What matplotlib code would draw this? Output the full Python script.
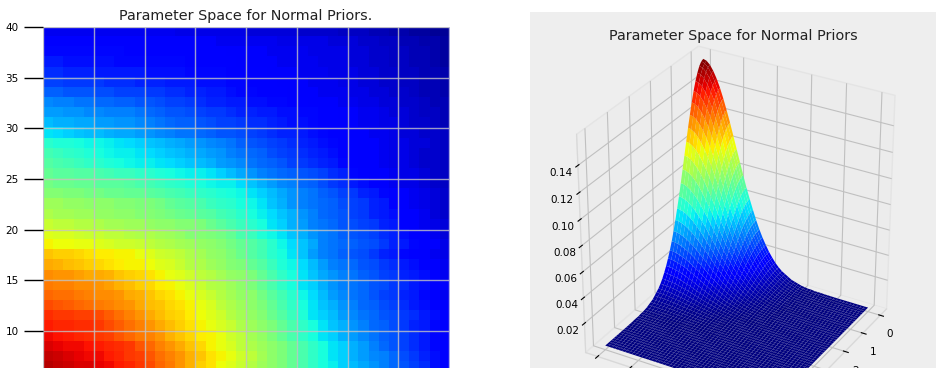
import numpy as np
import matplotlib
matplotlib.use('Agg')
import matplotlib.pyplot as plt
from matplotlib.patches import Rectangle

# colour level (percent of the jet range), top row first, y = 39 down to y = 6
heatLevels = [
    [10,10,10,10,10,10,10,10,10,10,10,10,10,9,9,9,9,9,9,9,8,8,8,8,8,7,7,7,7,6,6,6,5,5,4,4,3,3,2,2],
    [12,12,12,12,12,11,11,11,11,11,11,11,11,11,11,11,11,10,10,10,10,10,10,9,9,9,9,9,8,8,8,7,7,6,6,5,5,4,4,3],
    [13,13,13,13,13,13,13,13,12,12,12,12,12,12,12,12,12,12,11,11,11,11,10,10,10,10,9,9,9,9,8,8,7,7,6,6,5,5,4,3],
    [15,15,14,14,14,14,14,13,13,13,13,13,13,13,12,12,12,12,12,11,11,11,11,10,10,10,10,9,9,9,8,8,7,7,6,6,5,5,4,3],
    [17,17,16,16,16,15,15,15,15,15,14,14,14,14,13,13,13,13,12,12,12,12,11,11,11,10,10,10,9,9,9,8,8,7,7,6,6,5,5,4],
    [19,19,18,18,18,18,17,17,17,16,16,16,15,15,15,14,14,14,13,13,12,12,12,11,11,11,10,10,10,9,9,8,8,7,7,6,6,5,5,4],
    [22,22,21,21,21,20,20,19,19,19,18,18,17,17,16,16,15,15,14,13,13,12,12,12,11,11,11,10,10,10,9,9,8,8,7,7,6,5,5,4],
    [26,25,25,24,24,23,23,22,22,21,21,20,19,19,18,17,16,16,15,15,14,14,13,13,12,12,11,11,11,10,10,9,9,8,8,7,7,6,5,5],
    [28,28,27,27,26,26,25,25,25,24,23,22,21,21,20,19,18,18,17,16,16,15,15,14,14,13,13,12,12,11,11,10,10,9,8,8,7,6,6,5],
    [31,30,30,29,29,28,28,27,27,26,25,24,23,22,22,21,20,19,19,18,17,17,16,15,14,14,13,12,12,11,11,10,10,9,9,8,7,7,6,5],
    [35,34,33,32,31,31,30,29,29,28,27,26,25,24,24,23,22,21,21,20,19,18,17,16,16,15,14,13,12,12,11,11,10,10,9,8,8,7,7,6],
    [40,39,39,38,37,37,36,35,34,33,32,31,30,29,28,27,26,25,24,22,21,20,19,18,17,16,15,14,13,12,12,11,11,10,9,9,8,8,7,6],
    [43,42,41,40,39,38,37,36,36,35,34,33,32,31,30,29,28,27,25,24,23,22,20,19,18,17,16,15,14,12,12,11,11,10,9,9,8,7,7,6],
    [45,44,43,42,41,40,39,38,37,36,36,35,34,33,32,31,30,28,27,26,24,23,22,21,19,18,17,16,15,13,12,11,11,10,9,9,8,7,7,6],
    [47,46,46,45,45,44,43,42,42,41,40,39,38,37,36,36,35,33,31,29,27,25,24,23,22,21,20,19,17,16,13,12,11,11,10,9,9,8,7,6],
    [49,48,48,47,47,46,46,46,45,44,43,42,41,40,39,38,37,36,36,34,32,30,28,26,25,23,22,20,18,17,15,14,12,11,10,9,9,8,7,6],
    [51,51,50,50,49,49,48,48,47,47,46,45,44,43,42,41,40,39,38,37,35,33,31,29,27,25,24,22,21,19,18,16,15,13,12,11,10,9,8,7],
    [54,54,53,53,52,52,52,51,51,50,50,49,47,46,45,44,42,41,40,38,37,35,32,30,27,25,24,23,22,20,19,18,16,15,12,11,10,9,8,7],
    [56,55,55,54,54,53,53,52,52,51,51,50,49,48,47,46,45,43,42,40,38,36,34,32,30,27,25,23,22,21,19,18,16,15,14,12,11,10,8,7],
    [59,58,58,57,57,56,55,55,54,54,53,52,52,51,51,50,48,46,44,42,40,38,35,33,30,28,25,24,23,21,20,19,18,16,15,12,11,10,9,8],
    [62,61,61,60,59,59,58,58,57,56,56,55,54,53,51,51,50,49,47,44,42,39,37,35,32,30,27,25,24,22,21,20,19,17,16,14,12,11,10,8],
    [65,64,64,63,63,62,61,60,60,59,58,57,56,55,54,53,52,51,49,47,45,43,40,37,34,32,29,25,24,23,22,21,20,18,16,15,13,12,11,9],
    [70,69,69,68,67,66,66,65,65,63,62,60,59,58,56,55,53,52,50,48,45,43,40,38,35,32,28,25,24,22,21,20,18,16,15,13,12,11,10,9],
    [73,72,71,70,69,68,67,66,65,65,64,62,61,59,57,56,54,53,51,50,47,45,42,39,37,34,31,28,25,24,23,21,20,18,17,15,14,12,11,10],
    [76,75,75,74,73,73,72,70,69,68,67,65,63,62,60,58,57,55,53,52,50,47,44,41,38,35,32,29,27,25,24,22,21,19,18,16,15,14,12,10],
    [78,77,77,76,76,75,74,72,71,69,68,66,65,63,61,59,57,56,54,52,50,47,44,41,38,35,33,30,27,25,24,23,21,20,18,17,15,14,12,11],
    [80,79,79,78,77,76,76,75,73,72,70,68,67,65,63,61,59,57,55,53,52,49,46,43,40,37,34,31,28,26,24,23,21,19,18,16,15,13,12,10],
    [83,82,81,80,79,78,77,76,75,73,71,70,68,67,65,63,61,58,56,54,52,50,47,44,41,38,35,32,30,27,25,23,22,20,19,17,15,14,12,11],
    [86,85,85,84,84,83,81,79,77,75,73,71,69,68,66,64,62,60,57,55,53,51,48,45,42,39,35,33,31,28,26,24,23,21,20,18,17,15,14,12],
    [88,87,87,86,86,85,83,81,79,77,75,73,71,69,67,65,63,61,59,56,54,52,50,47,44,41,38,35,32,30,27,25,23,22,20,18,16,15,13,11],
    [90,89,88,87,86,85,84,82,80,78,77,75,72,70,68,66,65,63,60,58,55,53,50,47,44,41,38,35,33,30,28,26,24,22,21,19,17,15,13,11],
    [92,91,90,90,89,88,87,86,85,82,80,77,75,73,70,68,65,63,61,58,56,54,52,50,47,44,41,38,35,33,30,28,25,23,21,19,17,15,13,12],
    [94,93,92,91,90,90,88,87,85,84,82,79,77,75,72,70,67,65,63,60,58,55,52,50,47,44,41,38,35,33,30,28,26,25,23,20,18,16,14,12],
    [95,94,93,92,92,91,90,88,87,85,83,80,78,75,72,69,67,64,62,59,57,54,52,50,47,44,41,38,36,33,31,29,27,25,23,21,19,17,14,12],
]

# height of one edge of the 3D surface, read at steps of 0.1 along the axis
edgeDensity = [.399,.397,.391,.381,.368,.352,.333,.312,.290,.266,.242,.218,.194,.171,.150,.130,.111,
               .094,.079,.066,.054,.044,.035,.028,.022,.018,.014,.010,.008,.006,.004,.003,.002,.002,
               .001,.001,.001,.0005,.0005,.0003,.0002,.0001,.0001,.0001,.0001,.0001,.0,.0,.0,.0,.0]
axisValues = [i / 10 for i in range(51)]

heatXTicks = [0, 5, 10, 15, 20, 25, 30, 35, 40]
heatYTicks = [10, 15, 20, 25, 30, 35, 40]
zTicks = [0.02, 0.04, 0.06, 0.08, 0.10, 0.12, 0.14]
floorTicks = [0, 1, 2, 3, 4, 5]
floorLabels = ['0', '1', '2', '', '', '']
titleLeft = 'Parameter Space for Normal Priors.'
titleRight = 'Parameter Space for Normal Priors'

W, H = 946, 368
fig = plt.figure(figsize=(W / 100, H / 100), dpi=100)

# grey background of the right panel, it runs off the bottom of the picture
fig.patches.append(Rectangle((530 / W, 0), 406 / W, (H - 12) / H, transform=fig.transFigure,
                             facecolor='#eeeeee', edgecolor='none', zorder=-1))

# the reference is cut off at the bottom, both axes run past the figure edge
ax = fig.add_axes([43 / W, (H - 432) / H, 406 / W, 405 / H])
ax.imshow(np.array(heatLevels) / 100, cmap='jet', vmin=0, vmax=1, extent=[0, 40, 6, 40],
          aspect='auto', interpolation='nearest', zorder=1)
ax.set_xlim(0, 40)
ax.set_ylim(0, 40)
ax.set_xticks(heatXTicks)
ax.set_yticks(heatYTicks)
ax.grid(True, color='#c4c4c4', alpha=0.8, linewidth=1, zorder=3)
ax.set_axisbelow(False)
ax.tick_params(length=14, width=1, labelsize=7.5, pad=3.5, labelbottom=False)
for s in ax.spines.values():
    s.set_linewidth(0.6)
    s.set_color('#c8c8e8')
ax.set_title(titleLeft, fontsize=10.4, pad=5, color='#222222')

ax3 = fig.add_axes([530 / W, (H - 434) / H, 406 / W, 406 / H], projection='3d')
ax3.patch.set_visible(False)
X, Y = np.meshgrid(axisValues, axisValues)
Z = np.outer(edgeDensity, edgeDensity)
ax3.plot_surface(X, Y, Z, cmap='jet', rstride=1, cstride=1, linewidth=0)
ax3.view_init(elev=30, azim=30)
ax3.set_box_aspect((1, 1, 1.1), zoom=0.97)
ax3.set_zticks(zTicks)
ax3.set_xticks(floorTicks)
ax3.set_xticklabels(floorLabels)
ax3.set_yticks(floorTicks)
ax3.set_yticklabels([''] * len(floorTicks))
ax3.tick_params(labelsize=7.5)
ax3.tick_params(axis='x', pad=0)
ax3.tick_params(axis='z', pad=0)
for a in (ax3.xaxis, ax3.yaxis, ax3.zaxis):
    a.set_pane_color((0.925, 0.925, 0.925, 1))
    a.pane.set_edgecolor('#e4e4e4')
    a.line.set_color('#d8d8d8')
    a._axinfo['grid']['color'] = '#c0c0c0'
    a._axinfo['grid']['linewidth'] = 0.8
fig.text(733 / W, 1 - 36 / H, titleRight, fontsize=10.4, ha='center', va='center', color='#222222')

fig.savefig('out.png', dpi=100)
